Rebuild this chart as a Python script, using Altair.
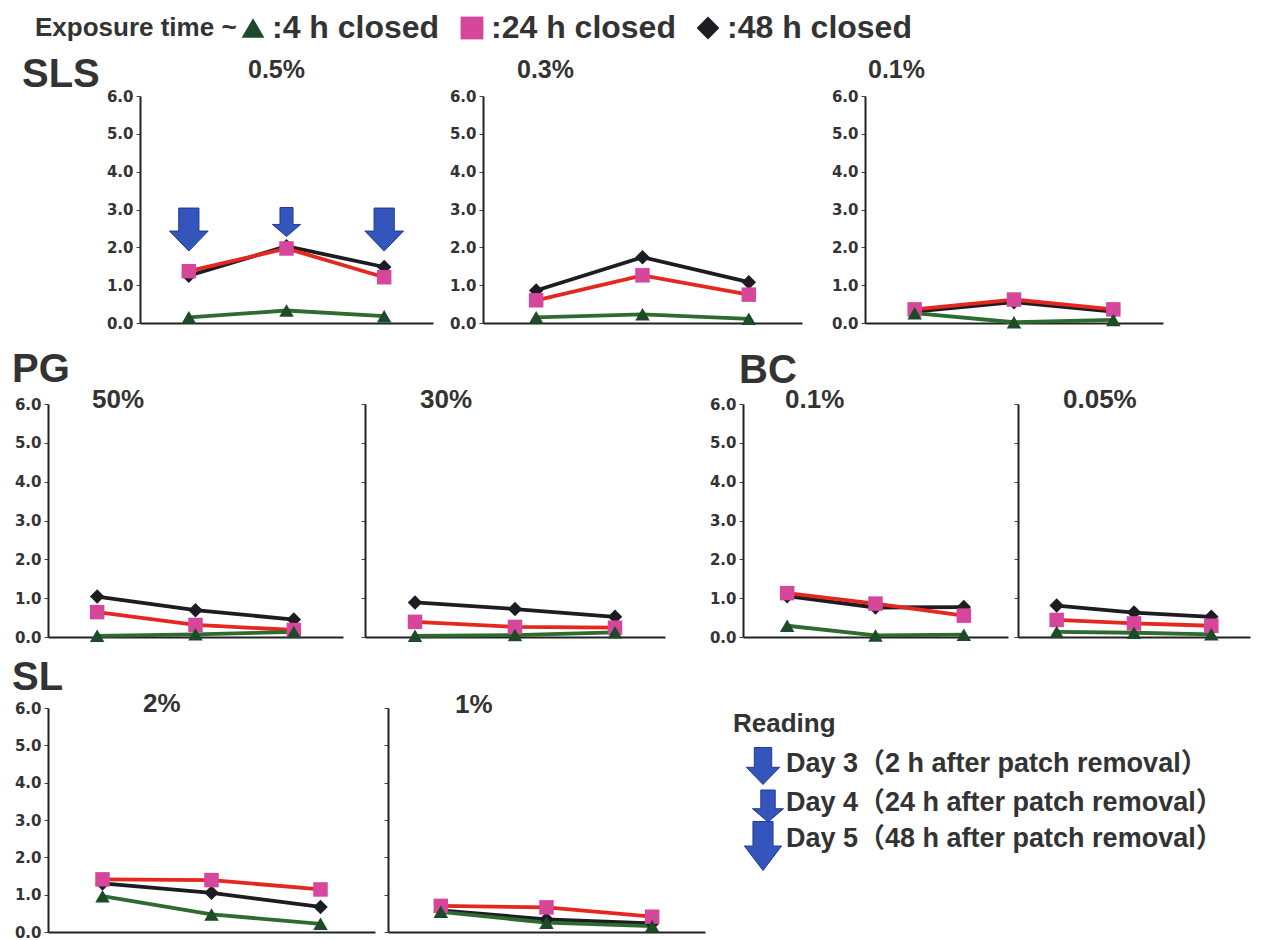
import altair as alt
import pandas as pd

# ---------------- data ----------------
days = ["Day 3", "Day 4", "Day 5"]
series = [":4 h closed", ":24 h closed", ":48 h closed"]
marker_colors = ["#1d4a28", "#d6479b", "#1c1c22"]
line_colors = ["#2e6b2e", "#e5281f", "#1c1c22"]
shapes = ["triangle-up", "square", "diamond"]

sls05_4h = [0.15, 0.33, 0.18]
sls05_24h = [1.37, 1.97, 1.21]
sls05_48h = [1.25, 2.03, 1.48]

sls03_4h = [0.15, 0.23, 0.11]
sls03_24h = [0.60, 1.26, 0.75]
sls03_48h = [0.86, 1.74, 1.08]

sls01_4h = [0.26, 0.02, 0.08]
sls01_24h = [0.36, 0.62, 0.36]
sls01_48h = [0.30, 0.55, 0.30]

pg50_4h = [0.03, 0.07, 0.13]
pg50_24h = [0.64, 0.31, 0.18]
pg50_48h = [1.04, 0.69, 0.45]

pg30_4h = [0.03, 0.05, 0.12]
pg30_24h = [0.39, 0.26, 0.24]
pg30_48h = [0.89, 0.72, 0.52]

bc01_4h = [0.29, 0.04, 0.06]
bc01_24h = [1.13, 0.86, 0.55]
bc01_48h = [1.05, 0.76, 0.77]

bc005_4h = [0.13, 0.11, 0.07]
bc005_24h = [0.44, 0.35, 0.29]
bc005_48h = [0.81, 0.63, 0.52]

sl2_4h = [0.96, 0.47, 0.22]
sl2_24h = [1.41, 1.39, 1.14]
sl2_48h = [1.30, 1.05, 0.67]

sl1_4h = [0.54, 0.25, 0.16]
sl1_24h = [0.70, 0.66, 0.41]
sl1_48h = [0.58, 0.34, 0.23]

arrow_days = ["Day 3", "Day 4", "Day 5"]
arrow_levels = [2.47, 2.67, 2.47]
arrow_kinds = ["big", "small", "big"]

reading_title = "Reading"
reading_items = ["Day 3（2 h after patch removal）",
                 "Day 4（24 h after patch removal）",
                 "Day 5（48 h after patch removal）"]

# ---------------- styles ----------------
FONT = "Liberation Sans, Arial, Noto Sans CJK JP, sans-serif"
TXT = "#333333"
ARROW_FILL = "#3456bc"
ARROW_EDGE = "#1f3a94"
BIG_ARROW = "M-0.47,-1 L0.47,-1 L0.47,0.07 L0.9,0.07 L0,1 L-0.9,0.07 L-0.47,0.07 Z"
SMALL_ARROW = "M-0.45,-1 L0.45,-1 L0.45,0.17 L0.97,0.17 L0,1 L-0.97,0.17 L-0.45,0.17 Z"
TALL_ARROW = "M-0.41,-1 L0.41,-1 L0.41,0 L0.76,0 L0,1 L-0.76,0 L-0.41,0 Z"

legend = alt.Legend(
    title="Exposure time ~", orient="none", legendX=-13, legendY=-84,
    direction="horizontal", titleOrient="left",
    titleFont=FONT, titleFontSize=26, titleFontWeight="bold", titleColor=TXT,
    labelFont=FONT, labelFontSize=32, labelFontWeight="bold", labelColor=TXT,
    symbolSize=520, symbolStrokeWidth=0, columnPadding=16, labelOffset=3,
    titlePadding=0, labelLimit=400, titleLimit=400,
)


def text_layer(text, dx, dy, size, align="left"):
    return alt.Chart(pd.DataFrame({"t": [text]})).mark_text(
        align=align, baseline="alphabetic", font=FONT, fontSize=size,
        fontWeight="bold", color=TXT
    ).encode(text="t:N", x=alt.value(dx), y=alt.value(dy))


def anchor(px, py):
    # invisible layout anchor: fixes the layout bounds of a cell
    return alt.Chart(pd.DataFrame({"a": [0]})).mark_point(
        size=1, opacity=0, filled=True, strokeWidth=0
    ).encode(x=alt.value(px), y=alt.value(py))


def panel(conc, v4, v24, v48, width, height, labels, tdx, tdy, tsize,
          left, top=10, bottom=None, heading=None, hdx=0, hdy=0, arrows=False):
    df = pd.DataFrame({
        "day": days * 3,
        "value": v48 + v24 + v4,
        "series": [series[2]] * 3 + [series[1]] * 3 + [series[0]] * 3,
    })
    x = alt.X("day:N", scale=alt.Scale(type="point", domain=days, padding=0.5),
              axis=alt.Axis(labels=False, ticks=False, title=None, grid=False,
                            domainColor="#222222", domainWidth=2))
    y = alt.Y("value:Q", scale=alt.Scale(domain=[0, 6], nice=False),
              axis=alt.Axis(values=[0, 1, 2, 3, 4, 5, 6], format=".1f",
                            labels=labels, ticks=True, tickSize=4,
                            tickColor="#444444", tickWidth=1, grid=False,
                            title=None, domainColor="#222222", domainWidth=2,
                            labelFont="DejaVu Sans", labelFontSize=15,
                            labelFontWeight="bold", labelColor=TXT,
                            labelPadding=3))
    base = alt.Chart(df)
    layers = []
    for s, c in [(series[2], line_colors[2]), (series[1], line_colors[1]),
                 (series[0], line_colors[0])]:
        layers.append(base.transform_filter(alt.datum.series == s)
                      .mark_line(color=c, strokeWidth=3.8).encode(x=x, y=y))
    layers.append(base.mark_point(filled=True, size=210, opacity=1).encode(
        x=x, y=y,
        color=alt.Color("series:N", scale=alt.Scale(domain=series, range=marker_colors), legend=legend),
        shape=alt.Shape("series:N", scale=alt.Scale(domain=series, range=shapes), legend=legend),
    ))
    if arrows:
        adf = pd.DataFrame({"day": arrow_days, "value": arrow_levels, "kind": arrow_kinds})
        ab = alt.Chart(adf)
        layers.append(ab.transform_filter(alt.datum.kind == "big").mark_point(
            shape=BIG_ARROW, size=1849, filled=True, fill=ARROW_FILL,
            stroke=ARROW_EDGE, strokeWidth=1, opacity=1).encode(x=x, y=y))
        layers.append(ab.transform_filter(alt.datum.kind == "small").mark_point(
            shape=SMALL_ARROW, size=841, filled=True, fill=ARROW_FILL,
            stroke=ARROW_EDGE, strokeWidth=1, opacity=1).encode(x=x, y=y))
    layers.append(text_layer(conc, tdx, tdy, tsize))
    if heading:
        layers.append(text_layer(heading, hdx, hdy, 40))
    layers.append(anchor(-(left - 0.5), -(top - 0.5)))
    if bottom is not None:
        layers.append(anchor(0, bottom - 0.5))
    return alt.layer(*layers).properties(width=width, height=height)


# ---------------- row 1: SLS ----------------
H1 = 227
spacer1 = alt.layer(
    text_layer("SLS", -26, -9, 40),
    anchor(0, 247.5),
).properties(width=52, height=H1)
p1 = panel("0.5%", sls05_4h, sls05_24h, sls05_48h, 293, H1, True, 108, -18, 25,
           left=40, arrows=True)
p2 = panel("0.3%", sls03_4h, sls03_24h, sls03_48h, 319, H1, True, 34, -18, 25, left=50)
p3 = panel("0.1%", sls01_4h, sls01_24h, sls01_48h, 298, H1, True, 3, -18, 25, left=63)
row1 = alt.hconcat(spacer1, p1, p2, p3, spacing=0)

# ---------------- row 2: PG, BC ----------------
H2 = 233
q1 = panel("50%", pg50_4h, pg50_24h, pg50_48h, 295, H2, True, 44, 4, 26,
           left=40, top=60, bottom=248, heading="PG", hdx=-36, hdy=-22)
q2 = panel("30%", pg30_4h, pg30_24h, pg30_48h, 300, H2, False, 55, 4, 26, left=22)
q3 = panel("0.1%", bc01_4h, bc01_24h, bc01_48h, 265, H2, True, 42, 4, 26,
           left=78, heading="BC", hdx=-4, hdy=-21)
q4 = panel("0.05%", bc005_4h, bc005_24h, bc005_48h, 232, H2, False, 45, 4, 26, left=10)
row2 = alt.hconcat(q1, q2, q3, q4, spacing=0)

# ---------------- row 3: SL + reading legend ----------------
H3 = 224
r1 = panel("2%", sl2_4h, sl2_24h, sl2_48h, 327, H3, True, 95, 4, 26,
           left=40, top=56, heading="SL", hdx=-36, hdy=-18)
r2 = panel("1%", sl1_4h, sl1_24h, sl1_48h, 317, H3, False, 67, 5, 26, left=13)


def arrow_mark(path, size, cx, cy):
    return alt.Chart(pd.DataFrame({"a": [0]})).mark_point(
        shape=path, size=size, filled=True, fill=ARROW_FILL, stroke=ARROW_EDGE,
        strokeWidth=1, opacity=1).encode(x=alt.value(cx), y=alt.value(cy))


legend_panel = alt.layer(
    text_layer(reading_title, 3, 24, 26),
    arrow_mark(BIG_ARROW, 1369, 33, 58),
    arrow_mark(SMALL_ARROW, 1024, 38, 98),
    arrow_mark(TALL_ARROW, 2401, 33, 138),
    text_layer(reading_items[0], 56, 64, 27),
    text_layer(reading_items[1], 56, 103, 27),
    text_layer(reading_items[2], 56, 139, 27),
    anchor(-24.5, 0),
).properties(width=480, height=150)

row3 = alt.hconcat(r1, r2, legend_panel, spacing=0)

chart = alt.vconcat(row1, row2, row3, spacing=0).properties(
    padding={"left": 0, "top": 4, "right": 2, "bottom": 0},
    background="white",
).configure_view(strokeWidth=0)

chart.save("out.html", embed_options={"renderer": "svg", "actions": False})
